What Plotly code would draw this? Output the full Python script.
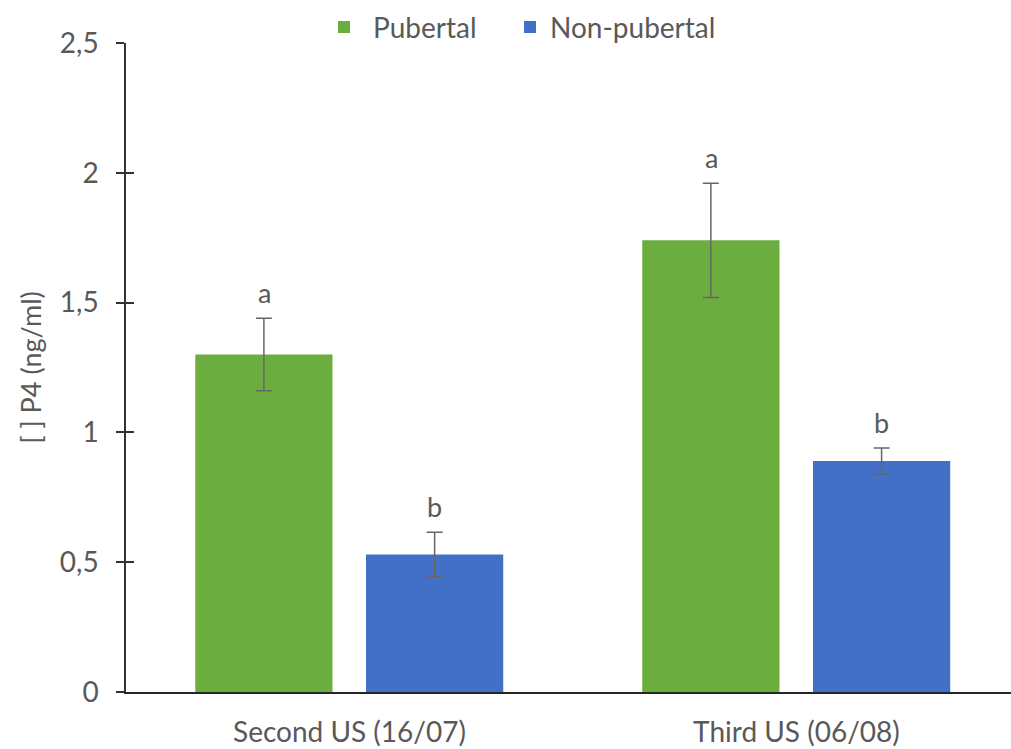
import plotly.graph_objects as go

categories = ["Second US (16/07)", "Third US (06/08)"]
pubertal = [1.30, 1.74]
pubertal_err = [0.14, 0.22]
non_pubertal = [0.53, 0.89]
non_pubertal_err = [0.085, 0.05]
pubertal_letters = ["a", "a"]
non_pubertal_letters = ["b", "b"]
y_ticks = [0, 0.5, 1, 1.5, 2, 2.5]

font_family = "Lato, 'Open Sans', sans-serif"
gray = "#595959"

fig = go.Figure()
fig.add_trace(go.Bar(
    name="Pubertal", x=categories, y=pubertal, legend="legend",
    marker=dict(color="#6cad3f", line=dict(width=0)),
    width=0.307, offset=-0.345,
    error_y=dict(type="data", array=pubertal_err, color="#666666", thickness=1.5, width=8),
))
fig.add_trace(go.Bar(
    name="Non-pubertal", x=categories, y=non_pubertal, legend="legend2",
    marker=dict(color="#4270c6", line=dict(width=0)),
    width=0.307, offset=0.037,
    error_y=dict(type="data", array=non_pubertal_err, color="#666666", thickness=1.5, width=8),
))

annotations = []
for i, c in enumerate(categories):
    annotations.append(dict(x=i - 0.19, y=pubertal[i] + pubertal_err[i], text=pubertal_letters[i],
                            showarrow=False, yanchor="bottom", yshift=7, xref="x", yref="y",
                            font=dict(size=27, color=gray, family=font_family)))
    annotations.append(dict(x=i + 0.19, y=non_pubertal[i] + non_pubertal_err[i], text=non_pubertal_letters[i],
                            showarrow=False, yanchor="bottom", yshift=7, xref="x", yref="y",
                            font=dict(size=27, color=gray, family=font_family)))

fig.update_layout(
    width=1011, height=749,
    margin=dict(l=126, r=0, t=43, b=57, autoexpand=False),
    paper_bgcolor="white", plot_bgcolor="white",
    separators=",.",
    font=dict(family=font_family, color=gray, size=28),
    barmode="group",
    showlegend=True,
    legend=dict(orientation="h", x=0.2136, xanchor="left", y=1.024, yanchor="middle",
                font=dict(size=28, color=gray), itemwidth=48),
    legend2=dict(orientation="h", x=0.4339, xanchor="left", y=1.024, yanchor="middle",
                 font=dict(size=28, color=gray), itemwidth=30),
    annotations=annotations,
)
fig.update_xaxes(
    type="category", range=[-0.5, 1.48],
    showline=True, linecolor="#262626", linewidth=2,
    ticks="", showgrid=False, automargin=False,
    ticklabelstandoff=14,
    tickfont=dict(size=28, color=gray),
)
fig.update_yaxes(
    range=[0, 2.5], tickvals=y_ticks,
    showline=True, linecolor="#333333", linewidth=1.5,
    ticks="outside", ticklen=8, tickcolor="#333333", tickwidth=1.5,
    ticklabelstandoff=12,
    showgrid=False, zeroline=False, automargin=False,
    tickfont=dict(size=28, color=gray),
    title=dict(text="[ ] P4 (ng/ml)", font=dict(size=27, color=gray), standoff=10),
)
# mirrored inner tick marks so the ticks cross the axis line
fig.update_layout(yaxis2=dict(
    overlaying="y", side="left", range=[0, 2.5], tickvals=y_ticks,
    ticks="inside", ticklen=8, tickcolor="#333333", tickwidth=1.5,
    showticklabels=False, showgrid=False, zeroline=False, showline=False,
    automargin=False,
))
fig.add_trace(go.Scatter(x=[], y=[], yaxis="y2", showlegend=False, hoverinfo="skip"))

fig.write_html("out.html", config={"displayModeBar": False},
               post_script="document.body.style.margin='0';")
